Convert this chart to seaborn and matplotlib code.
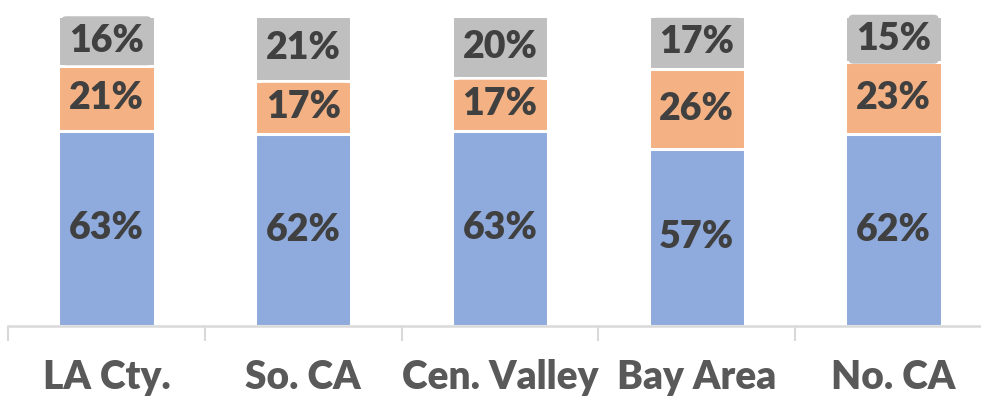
import matplotlib
matplotlib.use("Agg")
import matplotlib.pyplot as plt
import seaborn as sns
import numpy as np
import pandas as pd

categories = ["LA Cty.", "So. CA", "Cen. Valley", "Bay Area", "No. CA"]
blue_vals = [63, 62, 63, 57, 62]
orange_vals = [21, 17, 17, 26, 23]
gray_vals = [16, 21, 20, 17, 15]

BLUE = "#8FAADC"
ORANGE = "#F4B183"
GRAY = "#BFBFBF"

sns.set_style("white")
plt.rcParams["font.family"] = ["Lato", "DejaVu Sans"]

fig = plt.figure(figsize=(9.81, 4.0), dpi=100)
ax = fig.add_axes([8 / 981, 74.5 / 400, 984 / 981, 309.5 / 400])

b = np.array(blue_vals, dtype=float)
o = np.array(orange_vals, dtype=float)
g = np.array(gray_vals, dtype=float)
layers = [
    (b + o + g, GRAY),
    (b + o, ORANGE),
    (b, BLUE),
]
for vals, col in layers:
    df = pd.DataFrame({"cat": categories, "val": vals})
    sns.barplot(data=df, x="cat", y="val", order=categories, color=col,
                saturation=1, width=0.49, edgecolor="white", linewidth=2.2,
                ax=ax, errorbar=None)

# data labels
for i in range(len(categories)):
    segs = [(0, b[i], BLUE, False), (b[i], o[i], ORANGE, True),
            (b[i] + o[i], g[i], GRAY, True)]
    for base, h, col, boxed in segs:
        bbox = (dict(boxstyle="round,pad=0.2,rounding_size=0.12",
                     facecolor=col, edgecolor="none") if boxed else None)
        ax.text(i, base + h / 2, f"{int(h)}%", ha="center", va="center",
                fontsize=27, fontweight="heavy", color="#404040",
                bbox=bbox, clip_on=False, zorder=5)

ax.set_xlim(-0.5, len(categories) - 0.5)
ax.set_ylim(0, 100)
ax.set_xlabel("")
ax.set_ylabel("")
ax.set_yticks([])
for s in ["top", "left", "right"]:
    ax.spines[s].set_visible(False)
ax.spines["bottom"].set_color("#D9D9D9")
ax.spines["bottom"].set_linewidth(1.8)
ax.spines["bottom"].set_zorder(6)

ax.set_xticks(range(len(categories)))
ax.set_xticklabels(categories, fontsize=28, fontweight="heavy", color="#595959")
ax.set_xticks(np.arange(-0.5, len(categories), 1.0), minor=True)
ax.tick_params(axis="x", which="both", bottom=True)
ax.tick_params(axis="x", which="major", length=0, pad=24)
ax.tick_params(axis="x", which="minor", length=10.8, width=1.5,
               color="#D9D9D9", direction="out")

fig.savefig("out.png", dpi=100)
